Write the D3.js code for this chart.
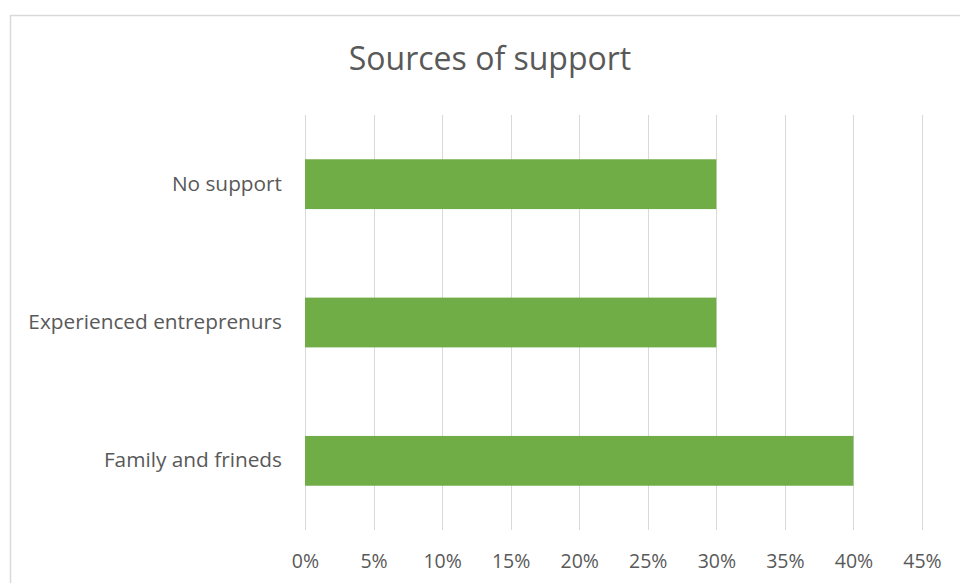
<!DOCTYPE html>
<html>
<head>
<meta charset="utf-8">
<script src="https://cdn.jsdelivr.net/npm/d3@7"></script>
<style>
  html, body { margin: 0; padding: 0; background: #fff; }
  svg { display: block; }
  text { font-family: "Open Sans", "Segoe UI", sans-serif; fill: #595959; }
</style>
</head>
<body>
<svg id="chart" width="960" height="583"></svg>
<script>
// Sources of support, share of respondents
const categories = ["No support", "Experienced entreprenurs", "Family and frineds"];
const values = [0.30, 0.30, 0.40];
const tickValues = [0, 0.05, 0.10, 0.15, 0.20, 0.25, 0.30, 0.35, 0.40, 0.45];
const title = "Sources of support";

const svg = d3.select("#chart");
const W = 960, H = 583;

// chart frame
svg.append("rect")
  .attr("x", 10.5).attr("y", 15.5)
  .attr("width", W + 20).attr("height", H + 20)
  .attr("fill", "#fff").attr("stroke", "#d9d9d9").attr("stroke-width", 1.5);

const plot = { left: 305, right: 922, top: 115, bottom: 530 };

const x = d3.scaleLinear().domain([0, 0.45]).range([plot.left, plot.right]);
const y = d3.scaleBand().domain(categories).range([plot.top, plot.bottom]).paddingInner(0.64).paddingOuter(0.32);

// vertical gridlines
svg.append("g")
  .selectAll("line")
  .data(tickValues)
  .join("line")
  .attr("x1", d => Math.round(x(d)) + 0.5).attr("x2", d => Math.round(x(d)) + 0.5)
  .attr("y1", plot.top).attr("y2", plot.bottom)
  .attr("stroke", "#d9d9d9").attr("stroke-width", 1);

// bars
svg.append("g")
  .selectAll("rect")
  .data(categories)
  .join("rect")
  .attr("x", x(0))
  .attr("y", d => y(d))
  .attr("width", (d, i) => x(values[i]) - x(0))
  .attr("height", y.bandwidth())
  .attr("fill", "#70ad47");

// x axis labels
const xAxis = d3.axisBottom(x).tickValues(tickValues).tickFormat(d3.format(".0%")).tickSize(0).tickPadding(0);
const gx = svg.append("g").attr("transform", `translate(0, ${plot.bottom + 31})`).call(xAxis);
gx.select(".domain").remove();
gx.selectAll("text").attr("font-size", 19.5).style("font-family", '"Open Sans", sans-serif')
  .attr("fill", "#666666").attr("dy", "0.35em");

// y axis labels
const yAxis = d3.axisLeft(y).tickSize(0).tickPadding(23);
const gy = svg.append("g").attr("transform", `translate(${plot.left}, 0)`).call(yAxis);
gy.select(".domain").remove();
gy.selectAll("text").attr("font-size", 20.8).style("font-family", '"Open Sans", sans-serif').attr("fill", "#5f5f5f");

// title
svg.append("text")
  .attr("x", 490).attr("y", 61)
  .attr("text-anchor", "middle").attr("dominant-baseline", "middle")
  .attr("font-size", 32)
  .text(title);
</script>
</body>
</html>
